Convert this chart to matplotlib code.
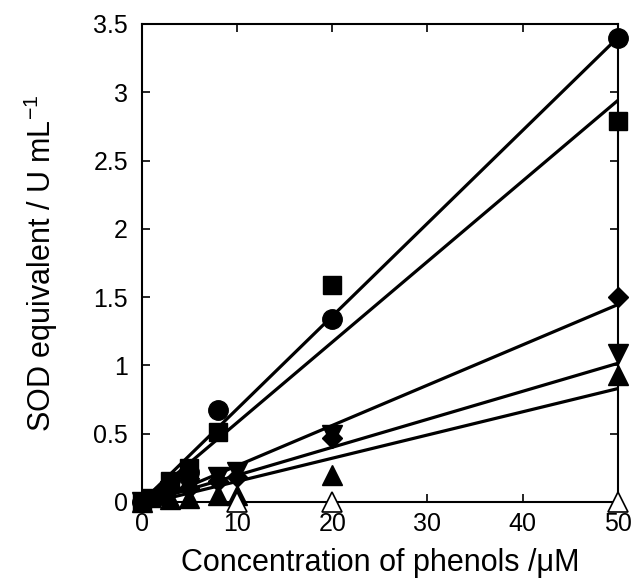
import numpy as np
import matplotlib.pyplot as plt

plt.rcParams["font.family"] = ["Liberation Sans", "DejaVu Sans"]

# concentration (uM) and SOD equivalent (U/mL) per phenol
x_circle = [0, 2, 5, 8, 20, 50]
y_circle = [0, 0.05, 0.22, 0.67, 1.34, 3.40]
x_square = [0, 1, 3, 5, 8, 20, 50]
y_square = [0, 0.03, 0.15, 0.25, 0.51, 1.59, 2.79]
x_diamond = [0, 3, 5, 8, 10, 20, 50]
y_diamond = [0, 0.10, 0.10, 0.15, 0.18, 0.47, 1.50]
x_down = [0, 3, 5, 8, 10, 20, 50]
y_down = [0, 0.08, 0.10, 0.18, 0.22, 0.49, 1.08]
x_up = [0, 3, 5, 8, 10, 20, 50]
y_up = [0, 0.02, 0.03, 0.05, 0.05, 0.20, 0.93]
x_open = [10, 20, 50]
y_open = [0, 0, 0]

# linear fits: slope, intercept
fit_slopes = [0.068, 0.059, 0.0295, 0.0205, 0.0170]
fit_intercepts = [0.0, -0.01, -0.03, -0.01, -0.02]

fig = plt.figure(figsize=(6.33, 5.85), dpi=100)
ax = fig.add_axes([0.224, 0.142, 0.752, 0.817])

xf = np.array([0, 50])
for s, b in zip(fit_slopes, fit_intercepts):
    ax.plot(xf, s * xf + b, "-", color="black", lw=2.3, zorder=2)

kw = dict(color="black", ls="none", clip_on=False, zorder=3)
ax.plot(x_circle, y_circle, "o", ms=14, **kw)
ax.plot(x_square, y_square, "s", ms=13, **kw)
ax.plot(x_diamond, y_diamond, "D", ms=10, **kw)
ax.plot(x_down, y_down, "v", ms=14, **kw)
ax.plot(x_up, y_up, "^", ms=14, **kw)
ax.plot(x_open, y_open, "^", ms=14, mfc="white", mec="black", mew=1.2,
        ls="none", clip_on=False, zorder=4)

ax.set_xlim(0, 50)
ax.set_ylim(0, 3.5)
ax.set_xticks([0, 10, 20, 30, 40, 50])
ax.set_yticks([0, 0.5, 1, 1.5, 2, 2.5, 3, 3.5])
ax.set_yticklabels(["0", "0.5", "1", "1.5", "2", "2.5", "3", "3.5"])
ax.tick_params(direction="in", top=True, right=True, length=6, width=1.2,
               labelsize=18)
ax.tick_params(axis="y", pad=10)
ax.tick_params(axis="x", pad=7)
for sp in ax.spines.values():
    sp.set_linewidth(1.5)

ax.set_xlabel("Concentration of phenols /μM", fontsize=22, labelpad=9)
ax.set_ylabel("SOD equivalent / U mL$^{\\mathregular{-1}}$", fontsize=22,
              labelpad=24)

fig.savefig("out.png", dpi=100)
